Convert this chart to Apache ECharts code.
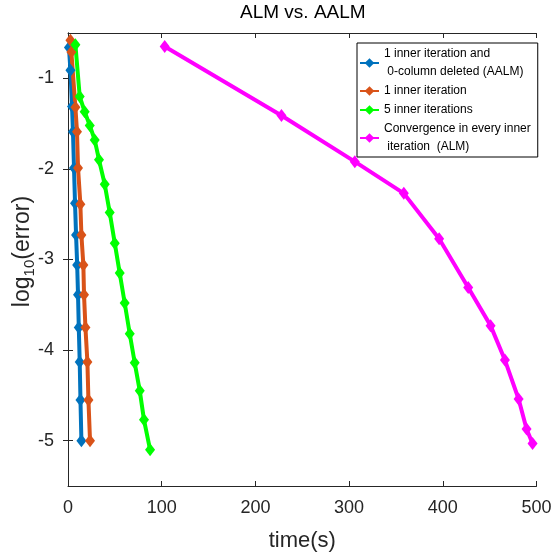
<!DOCTYPE html>
<html>
<head>
<meta charset="utf-8">
<script src="https://cdn.jsdelivr.net/npm/echarts@6/dist/echarts.min.js"></script>
<style>html,body{margin:0;padding:0;background:#fff;}#c{width:554px;height:558px;}</style>
</head>
<body>
<div id="c"></div>
<script>
// ---- data ----
const seriesNames = [
  '1 inner iteration and\n 0-column deleted (AALM)',
  '1 inner iteration',
  '5 inner iterations',
  'Convergence in every inner\n iteration  (ALM)'
];
const aalmTime = [1.0, 2.6, 4.3, 5.3, 6.4, 7.5, 8.6, 9.8, 10.7, 11.5, 12.5, 13.3, 14.3];
const aalmErr  = [-0.66, -0.91, -1.31, -1.59, -1.99, -2.38, -2.73, -3.06, -3.39, -3.75, -4.13, -4.55, -5.00];
const oneTime  = [2.6, 3.6, 7.9, 9.6, 10.7, 13.2, 14.3, 16.4, 17.1, 18.6, 20.7, 21.8, 23.5];
const oneErr   = [-0.58, -0.71, -1.32, -1.59, -1.99, -2.39, -2.73, -3.06, -3.39, -3.75, -4.13, -4.55, -5.00];
const fiveTime = [7.9, 12.5, 17.8, 23.2, 28.5, 33.1, 39.2, 44.5, 49.9, 55.2, 60.5, 65.9, 71.2, 76.6, 81.1, 87.6];
const fiveErr  = [-0.63, -1.20, -1.37, -1.52, -1.68, -1.90, -2.17, -2.48, -2.82, -3.15, -3.48, -3.82, -4.14, -4.45, -4.77, -5.10];
const almTime  = [103.2, 227.8, 306.1, 358.4, 396.1, 427.1, 451.0, 466.3, 480.9, 489.4, 495.8];
const almErr   = [-0.65, -1.41, -1.92, -2.27, -2.77, -3.31, -3.73, -4.11, -4.54, -4.87, -5.03];
const xTicks = [0, 100, 200, 300, 400, 500];
const yTicks = [-5, -4, -3, -2, -1];
const colors = ['#0072BD', '#D95319', '#00FF00', '#FF00FF'];

const zip = (xs, ys) => xs.map((x, i) => [x, ys[i]]);
const seriesData = [zip(aalmTime, aalmErr), zip(oneTime, oneErr), zip(fiveTime, fiveErr), zip(almTime, almErr)];

const axisColor = '#262626';
const font = 'Liberation Sans, Arial, Helvetica, sans-serif';

const chart = echarts.init(document.getElementById('c'), null, {renderer: 'canvas'});
chart.setOption({
  animation: false,
  backgroundColor: '#fff',
  color: colors,
  title: {
    text: 'ALM vs. AALM',
    left: 240,
    top: 3,
    padding: 0,
    textStyle: {fontFamily: font, fontSize: 19, fontWeight: 'normal', color: '#000'}
  },
  legend: {
    orient: 'vertical',
    left: 357,
    top: 43,
    padding: [2, 7, 1, 2],
    itemGap: 1,
    itemWidth: 19,
    itemHeight: 12,
    borderColor: '#000',
    borderWidth: 1,
    borderRadius: 0,
    backgroundColor: '#fff',
    data: seriesNames,
    textStyle: {fontFamily: font, fontSize: 12, color: '#000', lineHeight: 18}
  },
  grid: {left: 68, right: 17.5, top: 33, bottom: 72, containLabel: false, outerBoundsMode: 'none'},
  xAxis: [{
    type: 'value', min: 0, max: 500, interval: 100,
    name: 'time(s)', nameLocation: 'middle', nameGap: 44, nameMoveOverlap: false,
    nameTextStyle: {fontFamily: font, fontSize: 22, color: '#262626'},
    axisLine: {show: true, lineStyle: {color: axisColor, width: 1}},
    axisTick: {show: true, inside: true, length: 5, lineStyle: {color: axisColor}},
    axisLabel: {fontFamily: font, fontSize: 18, color: '#262626', margin: 13, customValues: xTicks},
    splitLine: {show: false}
  }, {
    type: 'value', min: 0, max: 500, interval: 100, position: 'top',
    axisLine: {show: true, lineStyle: {color: axisColor, width: 1}},
    axisTick: {show: true, inside: true, length: 5, lineStyle: {color: axisColor}},
    axisLabel: {show: false},
    splitLine: {show: false}
  }],
  yAxis: [{
    type: 'value', min: -5.5, max: -0.5,
    name: '{a|log}{b|10}{a|(error)}', nameLocation: 'middle', nameGap: 31, nameRotate: 90,
    nameMoveOverlap: false,
    nameTextStyle: {
      fontFamily: font, color: '#262626', padding: [0, 0, 0, 16],
      rich: {
        a: {fontFamily: font, fontSize: 23, lineHeight: 28, color: '#262626'},
        b: {fontFamily: font, fontSize: 15, lineHeight: 28, verticalAlign: 'bottom', color: '#262626'}
      }
    },
    axisLine: {show: true, lineStyle: {color: axisColor, width: 1}},
    axisTick: {show: true, inside: true, length: 5, lineStyle: {color: axisColor}, customValues: yTicks},
    axisLabel: {fontFamily: font, fontSize: 18, color: '#262626', margin: 14, customValues: yTicks},
    splitLine: {show: false}
  }, {
    type: 'value', min: -5.5, max: -0.5, position: 'right',
    axisLine: {show: true, lineStyle: {color: axisColor, width: 1}},
    axisTick: {show: true, inside: true, length: 5, lineStyle: {color: axisColor}, customValues: yTicks},
    axisLabel: {show: false},
    splitLine: {show: false}
  }],
  series: seriesData.map((d, i) => ({
    name: seriesNames[i],
    type: 'line',
    xAxisIndex: 0,
    yAxisIndex: 0,
    data: d,
    symbol: 'diamond',
    symbolSize: [10, 13],
    showAllSymbol: true,
    lineStyle: {width: 4, color: colors[i]},
    itemStyle: {color: colors[i], borderWidth: 0},
    emphasis: {disabled: true}
  }))
});
</script>
</body>
</html>
